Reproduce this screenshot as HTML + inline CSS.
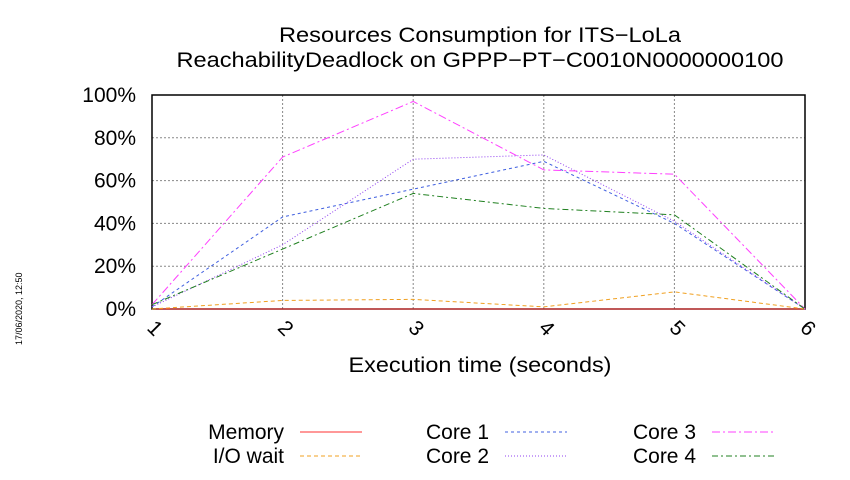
<!DOCTYPE html>
<html><head><meta charset="utf-8"><style>
body{margin:0;background:#fff;width:850px;height:475px;overflow:hidden}
text{font-family:"Liberation Sans",sans-serif;fill:#000}
</style></head><body>
<svg id="chart" width="850" height="475" xmlns="http://www.w3.org/2000/svg">
<text x="480" y="42" font-size="21" text-anchor="middle" textLength="402" lengthAdjust="spacingAndGlyphs">Resources Consumption for ITS−LoLa</text>
<text x="480" y="67" font-size="21" text-anchor="middle" textLength="607" lengthAdjust="spacingAndGlyphs">ReachabilityDeadlock on GPPP−PT−C0010N0000000100</text>
<text x="480" y="372" font-size="21" text-anchor="middle" textLength="263" lengthAdjust="spacingAndGlyphs">Execution time (seconds)</text>
<text transform="translate(22,345) rotate(-90)" font-size="9">17/06/2020, 12:50</text>
<g id="grid"></g><g id="axes"></g><g id="series"></g><g id="legend"></g>
</svg>
<script>
const categories=[1,2,3,4,5,6];
const yTicks=[0,20,40,60,80,100];
const memory=[0,0,0,0,0,0];
const ioWait=[0,4,4.5,1,8,0];
const core1=[1,43,56,69,40,0];
const core2=[1,30,70,72,41,0];
const core3=[2,71,97,65,63,0];
const core4=[2,28,54,47,44,0];
const NS="http://www.w3.org/2000/svg";
const L=152,R=805,T=95,B=309;
const xs=v=>L+(v-1)*(R-L)/5;
const ys=v=>B-v*(B-T)/100;
function mk(t,a,p){const e=document.createElementNS(NS,t);for(const k in a)e.setAttribute(k,a[k]);p.appendChild(e);return e;}
const grid=document.getElementById('grid'),axes=document.getElementById('axes'),ser=document.getElementById('series'),leg=document.getElementById('legend');
yTicks.forEach(v=>{
 const g=mk('line',{x1:L,x2:R,y1:ys(v),y2:ys(v),stroke:'#888','stroke-dasharray':'2,2','stroke-width':1},grid);
 
 
 const t=mk('text',{x:L-16,y:ys(v)+7,'font-size':21,'text-anchor':'end'},axes);t.textContent=v+'%';
 
 
});
categories.forEach(c=>{
 const g=mk('line',{x1:xs(c),x2:xs(c),y1:T,y2:B,stroke:'#888','stroke-dasharray':'2,2','stroke-width':1},grid);
 
 
 const t=mk('text',{x:0,y:0,'font-size':21,transform:`translate(${xs(c)-6},${B+20}) rotate(45)`},axes);t.textContent=c;
 
 
});
const fr=mk('rect',{x:L,y:T,width:R-L,height:B-T,fill:'none',stroke:'#000','stroke-width':1.5},axes);


const series=[
 ['memory','Memory',memory,'#ff3030','',300,432],
 ['io-wait','I/O wait',ioWait,'#f0a020','4,3',300,456],
 ['core-1','Core 1',core1,'#4060e0','3,3',505,432],
 ['core-2','Core 2',core2,'#9040f0','1,2',505,456],
 ['core-3','Core 3',core3,'#ff40ff','8,3,2,3',712,432],
 ['core-4','Core 4',core4,'#208020','6,3,2,3',712,456]];
series.forEach(([id,name,d,col,dash,lx,ly])=>{
 const p=mk('polyline',{points:d.map((v,i)=>xs(categories[i])+','+ys(v)).join(' '),fill:'none',stroke:col,'stroke-width':1,'stroke-dasharray':dash},ser);
 
 
 const t=mk('text',{x:lx-16,y:ly+7,'font-size':21,'text-anchor':'end'},leg);t.textContent=name;
 
 
 const s=mk('line',{x1:lx,x2:lx+62,y1:ly,y2:ly,stroke:col,'stroke-width':1,'stroke-dasharray':dash},leg);
 
 
});
</script>
</body></html>
